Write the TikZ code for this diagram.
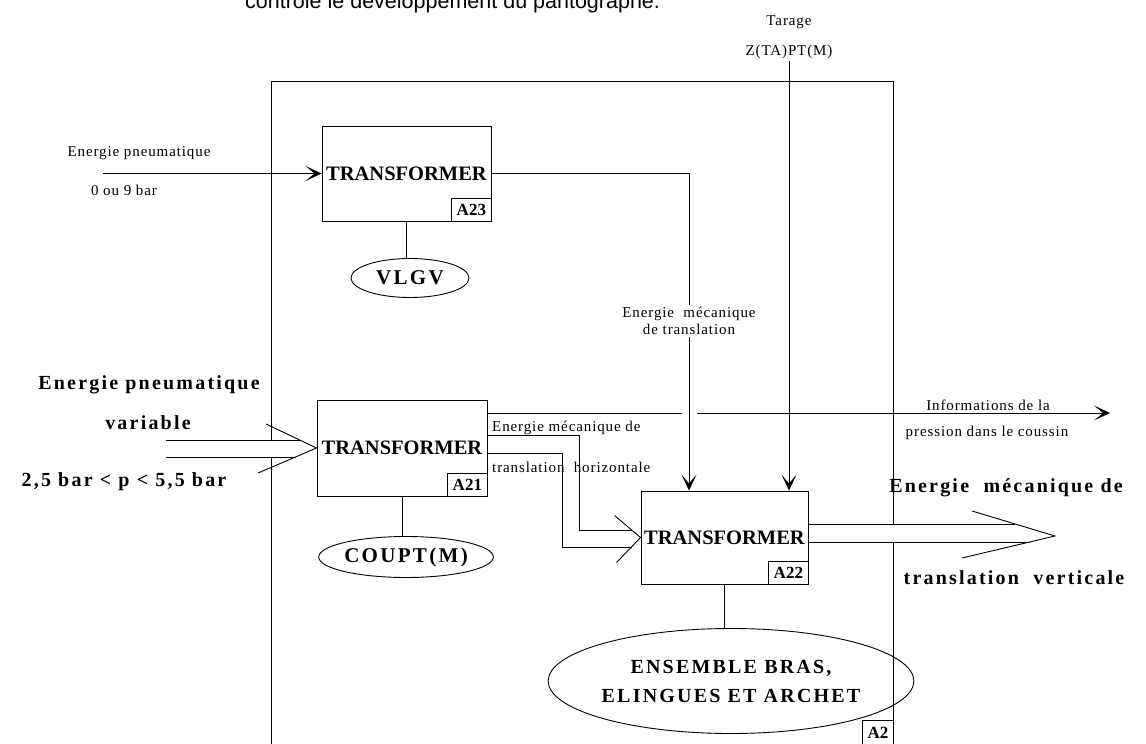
\documentclass[tikz,border=0pt]{standalone}
\usepackage{fontspec}
\setmainfont{Liberation Serif}
\newfontfamily\sansf{Liberation Sans}
\newfontfamily\smallsp[LetterSpace=6]{Liberation Serif}
\newfontfamily\bigsp[LetterSpace=11]{Liberation Serif}
\usetikzlibrary{arrows.meta,shapes.geometric}
\begin{document}
\begin{tikzpicture}[x=1pt,y=-1pt,
  ln/.style={line width=0.9pt},
  arr/.style={ln,-{Stealth[length=16pt,width=15pt,inset=9pt]}},
  fbox/.style={draw,ln,font=\bfseries\fontsize{20.5}{22}\selectfont,inner sep=0pt},
  lbl/.style={draw,ln,font=\bfseries\fontsize{17}{18}\selectfont,inner xsep=5pt,inner ysep=2pt,minimum height=23pt,anchor=south east},
  ell/.style={draw,ln,ellipse,inner sep=0pt,align=center,font=\bigsp\bfseries\fontsize{21}{29}\selectfont},
  sm/.style={font=\smallsp\fontsize{15}{17}\selectfont,inner sep=2pt},
  big/.style={font=\bigsp\bfseries\fontsize{20}{22}\selectfont,inner sep=0pt},
]
\useasboundingbox (0,0) rectangle (1146,744);
\fill[white] (0,0) rectangle (1146,744);

% clipped caption line at the very top
\node[anchor=base west,inner sep=0pt,font=\sansf\fontsize{21.5}{21.5}\selectfont] (toptxt) at (245,9) {contrôle le développement du pantographe.};

% outer A2 frame
\node[draw,ln,minimum width=622pt,minimum height=690pt,anchor=north west,inner sep=0pt] (A2) at (271,81) {};
\coordinate (a2y) at (0,720);
\node[lbl,anchor=north east,minimum height=25pt] (A2l) at (A2.north east |- a2y) {A2};

% function boxes
\node[fbox,minimum width=169pt,minimum height=95pt] (A23) at (406.5,173.5) {TRANSFORMER};
\node[lbl] (A23l) at (A23.south east) {A23};
\node[fbox,minimum width=170pt,minimum height=96pt] (A21) at (402,448) {TRANSFORMER};
\node[lbl] (A21l) at (A21.south east) {A21};
\node[fbox,minimum width=167pt,minimum height=93pt] (A22) at (724.5,537.5) {TRANSFORMER};
\node[lbl] (A22l) at (A22.south east) {A22};

% supports
\node[ell,minimum width=118pt,minimum height=39pt] (vlgv) at (410,278) {VLGV};
\node[ell,minimum width=172pt,minimum height=41pt] (coupt) at (406,557) {COUPT(M)};
\node[ell,minimum width=300pt,minimum height=105pt,font=\bigsp\bfseries\fontsize{20}{29}\selectfont] (ens) at (731,681) {ENSEMBLE BRAS,\\ELINGUES ET ARCHET};
\draw[ln] (A23.south) -- (A23.south |- vlgv.north);
\draw[ln] (A21.south) -- (A21.south |- coupt.north);
\draw[ln] (A22.south) -- (A22.south |- ens.north);

% A23 input
\node[sm] (ep) at (139,153) {Energie pneumatique};
\node[sm] (ob) at (124,190) {0 ou 9 bar};
\coordinate (in23) at (103,173.5);
\draw[arr] (in23) -- (A23.west);

% Tarage
\node[sm] (tar) at (789,22) {Tarage};
\node[sm] (zta) at (789,52) {Z(TA)PT(M)};
\draw[arr] (zta.south) -- (zta.south |- A22.north);

% A23 output -> A22
\node[sm,align=center] (emt) at (689,321) {Energie\ \ mécanique\\de translation};
\draw[ln] (A23.east) -| (emt.north);
\draw[arr] (emt.south) -- (emt.south |- A22.north);

% information output
\node[sm] (inf1) at (988,405) {Informations de la};
\node[sm] (inf2) at (987,433) {pression dans le coussin};
\coordinate (g1) at (682,413);
\coordinate (g2) at (697,413);
\coordinate (infoend) at (1110,413);
\draw[ln] (A21.east |- g1) -- (g1);
\draw[arr] (g2) -- (infoend);

% A21 input (wide arrow)
\node[big] (epv1) at (149,385) {Energie pneumatique};
\node[big] (epv2) at (148,423) {variable};
\node[big] (pr) at (124,482) {2,5 bar < p < 5,5 bar};
\fill[white] (265,440.5) rectangle (277,456.5);
\coordinate (ia1) at (166,440);
\coordinate (ia2) at (300,440);
\coordinate (ib1) at (166,457);
\coordinate (ib2) at (296,457);
\coordinate (iu) at (266,424);
\coordinate (il) at (258,473);
\draw[ln] (ia1) -- (ia2);
\draw[ln] (ib1) -- (ib2);
\draw[ln] (iu) -- (A21.west) -- (il);

% A21 -> A22 (wide arrow)
\node[sm,anchor=west] (emd) at (490,428) {Energie mécanique de};
\node[sm,anchor=west] (thz) at (490,467) {translation\ \ horizontale};
\coordinate (u2) at (579,435);
\coordinate (u3) at (579,530);
\coordinate (u4) at (632,530);
\coordinate (l2) at (562,453);
\coordinate (l3) at (562,547);
\coordinate (l4) at (632,547);
\draw[ln] (A21.east |- u2) -- (u2) -- (u3) -- (u4);
\draw[ln] (A21.east |- l2) -- (l2) -- (l3) -- (l4);
\draw[ln] ([shift={(-26,-22)}]A22.west) -- (A22.west) -- ([shift={(-24,25)}]A22.west);

% A22 output (wide arrow)
\node[big] (emv1) at (1006,488) {Energie\ \ mécanique de};
\node[big] (emv2) at (1014,578) {translation\ \ verticale};
\fill[white] (887,524.5) rectangle (899,541.5);
\coordinate (o1) at (1015,524);
\coordinate (o2) at (1030,542);
\coordinate (d1) at (972,511);
\coordinate (d2) at (962,558);
\coordinate (otip) at (1055,536);
\draw[ln] (A22.east |- o1) -- (o1);
\draw[ln] (A22.east |- o2) -- (o2);
\draw[ln] (d1) -- (otip) -- (d2);
\end{tikzpicture}
\end{document}
